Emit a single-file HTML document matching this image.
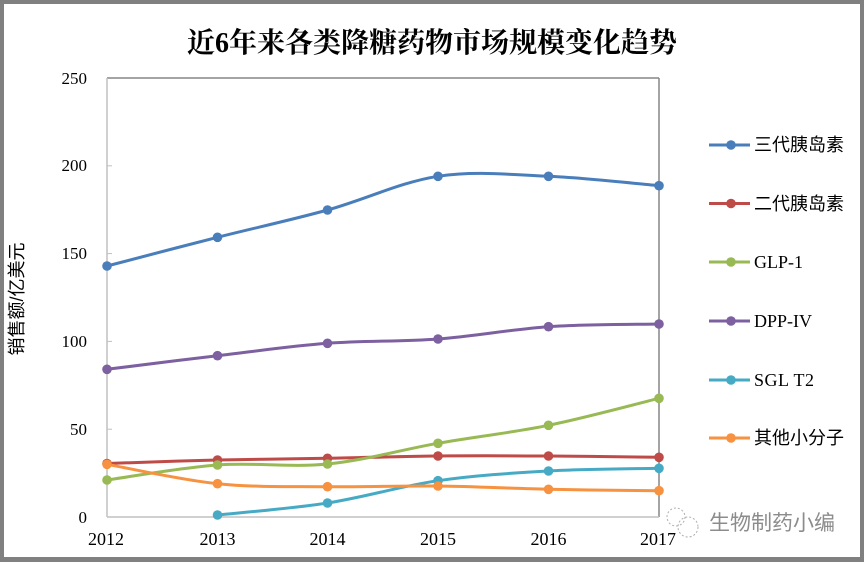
<!DOCTYPE html>
<html>
<head>
<meta charset="utf-8">
<style>
html,body{margin:0;padding:0;background:#fff;}
svg{display:block;}
.tk{font-family:"Liberation Serif","Noto Serif CJK SC",serif;font-size:17px;fill:#000;}
.lg{font-family:"Liberation Sans","Noto Sans CJK SC",sans-serif;font-size:18px;fill:#000;}
.lgs{font-family:"Liberation Serif","Noto Serif CJK SC",serif;font-size:18px;fill:#000;}
</style>
</head>
<body>
<svg width="864" height="562" viewBox="0 0 864 562" xmlns="http://www.w3.org/2000/svg">
<!-- frame -->
<rect x="0" y="0" width="864" height="562" fill="#808080"/>
<rect x="4" y="4" width="856" height="553" fill="#ffffff"/>

<!-- title -->
<text x="432" y="52" text-anchor="middle" font-family="'Liberation Serif','Noto Serif CJK SC',serif" font-weight="bold" font-size="28" fill="#000">近6年来各类降糖药物市场规模变化趋势</text>

<!-- y axis label -->
<text transform="translate(23,299) rotate(-90)" text-anchor="middle" font-family="'Liberation Sans','Noto Sans CJK SC',sans-serif" font-size="18" fill="#000">销售额/亿美元</text>

<!-- plot frame -->
<line x1="107" y1="78" x2="659" y2="78" stroke="#868686" stroke-width="1.5"/>
<line x1="659" y1="78" x2="659" y2="517" stroke="#868686" stroke-width="1.5"/>
<line x1="107" y1="78" x2="107" y2="517" stroke="#c0c0c0" stroke-width="1.5"/>
<line x1="107" y1="517" x2="659" y2="517" stroke="#c0c0c0" stroke-width="1.5"/>
<!-- y ticks -->
<g stroke="#c0c0c0" stroke-width="1">
<line x1="107" y1="429.2" x2="112" y2="429.2"/>
<line x1="107" y1="341.4" x2="112" y2="341.4"/>
<line x1="107" y1="253.6" x2="112" y2="253.6"/>
<line x1="107" y1="165.8" x2="112" y2="165.8"/>
</g>
<!-- y tick labels -->
<g class="tk" text-anchor="end">
<text x="87" y="523">0</text>
<text x="87" y="435">50</text>
<text x="87" y="347">100</text>
<text x="87" y="259">150</text>
<text x="87" y="171">200</text>
<text x="87" y="84">250</text>
</g>
<!-- x tick labels -->
<g class="tk" text-anchor="middle" style="font-size:18px">
<text x="106" y="545">2012</text>
<text x="217.5" y="545">2013</text>
<text x="327.5" y="545">2014</text>
<text x="438" y="545">2015</text>
<text x="548.5" y="545">2016</text>
<text x="658" y="545">2017</text>
</g>

<!-- series -->
<g fill="none" stroke-width="3" stroke-linecap="round" stroke-linejoin="round">
<path stroke="#4A7EBB" d="M107,266 C125.4,261.22 180.7,246.63 217.5,237.3 C254.3,227.97 290.7,220.17 327.5,210 C364.3,199.83 401.2,181.92 438,176.3 C474.8,170.68 511.7,174.73 548.5,176.3 C585.3,177.87 640.6,184.13 659,185.7"/>
<path stroke="#BE4B48" d="M107,463.5 C125.4,462.92 180.7,460.87 217.5,460 C254.3,459.13 290.7,458.97 327.5,458.3 C364.3,457.63 401.2,456.38 438,456 C474.8,455.62 511.7,455.78 548.5,456 C585.3,456.22 640.6,457.08 659,457.3"/>
<path stroke="#98B954" d="M107,480 C125.4,477.5 180.7,467.67 217.5,465 C254.3,462.33 290.7,467.62 327.5,464 C364.3,460.38 401.2,449.75 438,443.3 C474.8,436.85 511.7,432.8 548.5,425.3 C585.3,417.8 640.6,402.8 659,398.3"/>
<path stroke="#7D60A0" d="M107,369.3 C125.4,367.03 180.7,360.03 217.5,355.7 C254.3,351.37 290.7,346.08 327.5,343.3 C364.3,340.52 401.2,341.77 438,339 C474.8,336.23 511.7,329.2 548.5,326.7 C585.3,324.2 640.6,324.45 659,324"/>
<path stroke="#46AAC5" d="M217.5,515 C235.9,513 290.7,508.72 327.5,503 C364.3,497.28 401.2,486.03 438,480.7 C474.8,475.37 511.7,473.07 548.5,471 C585.3,468.93 640.6,468.75 659,468.3"/>
<path stroke="#F69240" d="M107,464.3 C125.4,467.53 180.7,479.97 217.5,483.7 C254.3,487.43 290.7,486.32 327.5,486.7 C364.3,487.08 401.2,485.57 438,486 C474.8,486.43 511.7,488.52 548.5,489.3 C585.3,490.08 640.6,490.47 659,490.7"/>
</g>
<!-- markers -->
<g fill="#4A7EBB">
<circle cx="107" cy="266" r="4.8"/><circle cx="217.5" cy="237.3" r="4.8"/><circle cx="327.5" cy="210" r="4.8"/><circle cx="438" cy="176.3" r="4.8"/><circle cx="548.5" cy="176.3" r="4.8"/><circle cx="659" cy="185.7" r="4.8"/>
</g>
<g fill="#BE4B48">
<circle cx="107" cy="463.5" r="4.8"/><circle cx="217.5" cy="460" r="4.8"/><circle cx="327.5" cy="458.3" r="4.8"/><circle cx="438" cy="456" r="4.8"/><circle cx="548.5" cy="456" r="4.8"/><circle cx="659" cy="457.3" r="4.8"/>
</g>
<g fill="#98B954">
<circle cx="107" cy="480" r="4.8"/><circle cx="217.5" cy="465" r="4.8"/><circle cx="327.5" cy="464" r="4.8"/><circle cx="438" cy="443.3" r="4.8"/><circle cx="548.5" cy="425.3" r="4.8"/><circle cx="659" cy="398.3" r="4.8"/>
</g>
<g fill="#7D60A0">
<circle cx="107" cy="369.3" r="4.8"/><circle cx="217.5" cy="355.7" r="4.8"/><circle cx="327.5" cy="343.3" r="4.8"/><circle cx="438" cy="339" r="4.8"/><circle cx="548.5" cy="326.7" r="4.8"/><circle cx="659" cy="324" r="4.8"/>
</g>
<g fill="#46AAC5">
<circle cx="217.5" cy="515" r="4.8"/><circle cx="327.5" cy="503" r="4.8"/><circle cx="438" cy="480.7" r="4.8"/><circle cx="548.5" cy="471" r="4.8"/><circle cx="659" cy="468.3" r="4.8"/>
</g>
<g fill="#F69240">
<circle cx="107" cy="464.3" r="4.8"/><circle cx="217.5" cy="483.7" r="4.8"/><circle cx="327.5" cy="486.7" r="4.8"/><circle cx="438" cy="486" r="4.8"/><circle cx="548.5" cy="489.3" r="4.8"/><circle cx="659" cy="490.7" r="4.8"/>
</g>

<!-- legend -->
<g stroke-width="3">
<line x1="709" y1="145" x2="750" y2="145" stroke="#4A7EBB"/>
<line x1="709" y1="203.5" x2="750" y2="203.5" stroke="#BE4B48"/>
<line x1="709" y1="262" x2="750" y2="262" stroke="#98B954"/>
<line x1="709" y1="321" x2="750" y2="321" stroke="#7D60A0"/>
<line x1="709" y1="380" x2="750" y2="380" stroke="#46AAC5"/>
<line x1="709" y1="438" x2="750" y2="438" stroke="#F69240"/>
</g>
<circle cx="731" cy="145" r="4.8" fill="#4A7EBB"/>
<circle cx="731" cy="203.5" r="4.8" fill="#BE4B48"/>
<circle cx="731" cy="262" r="4.8" fill="#98B954"/>
<circle cx="731" cy="321" r="4.8" fill="#7D60A0"/>
<circle cx="731" cy="380" r="4.8" fill="#46AAC5"/>
<circle cx="731" cy="438" r="4.8" fill="#F69240"/>
<text class="lg" x="754" y="151">三代胰岛素</text>
<text class="lg" x="754" y="210">二代胰岛素</text>
<text class="lgs" x="754" y="268">GLP-1</text>
<text class="lgs" x="754" y="327">DPP-IV</text>
<text class="lgs" x="754" y="386" letter-spacing="0.5">SGL T2</text>
<text class="lg" x="754" y="444">其他小分子</text>

<!-- watermark -->
<g fill="none" stroke="#9a9a9a" stroke-width="1" stroke-dasharray="2,2" opacity="0.8">
<circle cx="676" cy="517" r="9"/>
<circle cx="688" cy="527" r="10"/>
</g>
<text x="710" y="531" font-family="'Liberation Sans','Noto Sans CJK SC',sans-serif" font-size="21" fill="#ffffff" opacity="0.9">生物制药小编</text>
<text x="709" y="530" font-family="'Liberation Sans','Noto Sans CJK SC',sans-serif" font-size="21" fill="#8c8c8c">生物制药小编</text>
</svg>
</body>
</html>
